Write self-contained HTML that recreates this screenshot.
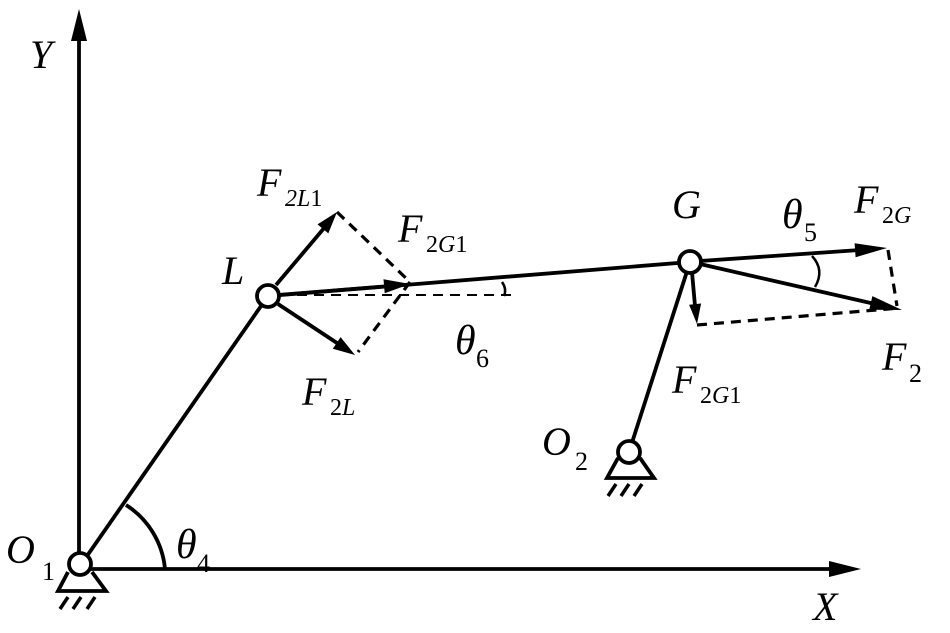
<!DOCTYPE html>
<html><head><style>
html,body{margin:0;padding:0;background:#fff;}
svg{display:block;}
</style></head><body>
<svg width="950" height="633" viewBox="0 0 950 633" xmlns="http://www.w3.org/2000/svg">
<g stroke="#000" stroke-width="3.8" fill="none">
<line x1="79" y1="566" x2="79" y2="30"/>
<line x1="90" y1="569" x2="840" y2="569"/>
<line x1="80" y1="566" x2="268" y2="296"/>
<line x1="268" y1="296" x2="690" y2="262"/>
<line x1="690" y1="262" x2="629" y2="452"/>
<path d="M126,505 A85,85 0 0 1 165,569"/>
<line x1="276" y1="285" x2="325" y2="227"/>
<line x1="278" y1="304" x2="340" y2="345"/>
<line x1="278" y1="295" x2="390" y2="286"/>
<g stroke-dasharray="10,7" stroke-width="3.2">
<line x1="337" y1="212" x2="410" y2="282"/>
<line x1="410" y1="282" x2="358" y2="352"/>
<line x1="280" y1="295" x2="518" y2="295" stroke-width="2"/>
</g>
<path d="M502,282 Q507,289 504,296" stroke-width="2.5"/>
<line x1="700" y1="261" x2="860" y2="250"/>
<line x1="700" y1="264" x2="875" y2="304"/>
<line x1="692" y1="272" x2="695" y2="306"/>
<g stroke-dasharray="10,7" stroke-width="3.2">
<line x1="888" y1="250" x2="897" y2="306"/>
<line x1="697" y1="325" x2="900" y2="308"/>
</g>
<path d="M812,256 Q825,270 815,287" stroke-width="2.5"/>
<path d="M68,572 L58,591 L106,591 L92,572"/>
<path d="M68,597 L60,609 M81,597 L73,609 M95,597 L87,609" stroke-width="3.5"/>
<path d="M618,458 L607,478 L654,478 L640,458"/>
<path d="M616,484 L608,496 M629,484 L621,496 M642,484 L634,496" stroke-width="3.5"/>
</g>
<g fill="#000">
<polygon points="79,9 71,41 87,41"/>
<polygon points="861,569 829,561 829,577"/>
<polygon points="337,212 328.3,233.4 317.5,224.4"/>
<polygon points="355,355 332.8,348.7 340.6,337.1"/>
<polygon points="410,284 384.7,293.2 383.5,279.2"/>
<polygon points="887,248 855.6,257.2 854.6,243.2"/>
<polygon points="902,310 869.2,309.7 872.4,296.1"/>
<polygon points="697,324 689.1,304.7 701.1,303.5"/>
</g>
<g fill="#fff" stroke="#000" stroke-width="3.8">
<circle cx="80" cy="564" r="11"/>
<circle cx="268" cy="296" r="11"/>
<circle cx="690" cy="262" r="11"/>
<circle cx="629" cy="452" r="11"/>
</g>
<g font-family="'Liberation Serif','DejaVu Serif',serif" font-style="italic" font-size="40" fill="#000">
<text x="30" y="68">Y</text>
<text x="813" y="620">X</text>
<text x="6" y="563">O</text><text x="42" y="580" font-size="26" font-style="normal">1</text>
<text x="222" y="284">L</text>
<text x="257" y="196">F</text><text x="285" y="206" font-size="24">2L<tspan font-style="normal">1</tspan></text>
<text x="398" y="242">F</text><text x="426" y="252" font-size="24"><tspan font-style="normal">2</tspan>G<tspan font-style="normal">1</tspan></text>
<text x="455" y="354" font-size="42">θ</text><text x="476" y="367" font-size="26" font-style="normal">6</text>
<text x="302" y="405">F</text><text x="330" y="415" font-size="24"><tspan font-style="normal">2</tspan>L</text>
<text x="672" y="218">G</text>
<text x="782" y="228" font-size="42">θ</text><text x="804" y="241" font-size="26" font-style="normal">5</text>
<text x="854" y="213">F</text><text x="882" y="223" font-size="24"><tspan font-style="normal">2</tspan>G</text>
<text x="882" y="370">F</text><text x="909" y="382" font-size="26" font-style="normal">2</text>
<text x="672" y="393">F</text><text x="700" y="403" font-size="24"><tspan font-style="normal">2</tspan>G<tspan font-style="normal">1</tspan></text>
<text x="542" y="455">O</text><text x="575" y="470" font-size="26" font-style="normal">2</text>
<text x="176" y="558" font-size="42">θ</text><text x="197" y="572" font-size="26" font-style="normal">4</text>
</g>
</svg>
</body></html>
